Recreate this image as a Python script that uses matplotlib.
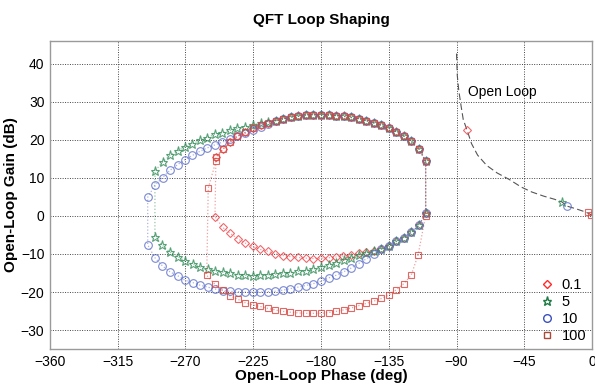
import numpy as np
import matplotlib
matplotlib.use("Agg")
import matplotlib.pyplot as plt
from matplotlib.lines import Line2D

plt.rcParams['font.family'] = ['Liberation Sans', 'DejaVu Sans']

# ---- data (phase deg, gain dB) ----
# common top arc shared by all templates (right to left)
top_phase = [-110.5, -115, -120, -125, -130, -135, -140, -145, -150, -155, -160,
             -165, -170, -175, -180, -185, -190, -195, -200, -205, -210]
top_gain = [14.4, 17.7, 19.6, 21.0, 22.2, 23.1, 23.8, 24.5, 25.1, 25.6, 25.9,
            26.2, 26.4, 26.5, 26.6, 26.6, 26.5, 26.2, 26.0, 25.5, 25.1]

# common lower-right part for 0.1, 5, 10 (left to right)
right_phase = [-140, -135, -130, -125, -120, -115, -110.5]
right_gain = [-8.7, -7.8, -6.7, -5.7, -4.3, -2.5, 0.8]

# template w = 0.1
w01_left_phase = [-215, -220, -225, -230.3, -235.6, -240.5, -245.3, -249.8]
w01_left_gain = [24.4, 23.9, 23.0, 22.0, 20.9, 19.4, 17.5, 15.5]
w01_bot_phase = [-250.4, -245.3, -240.5, -235.3, -230.5, -225.4, -220.3, -215.2, -210.4,
                 -205.3, -200.3, -195.2, -190.2, -185.1, -180.1, -175, -170.3, -165.5,
                 -160, -155, -150, -145]
w01_bot_gain = [-0.2, -3.0, -4.5, -6.0, -7.1, -8.0, -8.8, -9.3, -9.9,
                -10.4, -10.7, -10.9, -11.1, -11.2, -11.1, -11.0, -10.8, -10.5,
                -10.2, -9.8, -9.5, -9.1]

# template w = 5
w5_left_phase = [-215, -220, -225, -230.5, -235.6, -240.5, -245.6, -250.6, -255.5, -260.4,
                 -265.5, -270.4, -275.2, -280.3, -285.2, -290.3]
w5_left_gain = [24.8, 24.4, 24.0, 23.5, 23.0, 22.5, 21.8, 21.5, 20.6, 19.9,
                19.0, 18.2, 17.1, 15.9, 14.2, 11.8]
w5_bot_phase = [-290.3, -285.4, -280.3, -275.2, -270.4, -265.2, -260.4, -255.3, -250.5,
                -245.3, -240.5, -235.3, -230.5, -225.4, -220.3, -215.2, -210.4, -205.3,
                -200.3, -195.2, -190.2, -185.1, -180.1, -175, -170, -165, -160, -155,
                -150, -145]
w5_bot_gain = [-5.4, -7.7, -9.5, -10.7, -11.8, -12.7, -13.4, -13.9, -14.4,
               -14.8, -15.1, -15.4, -15.6, -15.7, -15.6, -15.5, -15.3, -15.1,
               -14.9, -14.6, -14.4, -14.0, -13.5, -12.8, -12.3, -11.5, -11.0, -10.3,
               -9.7, -9.1]

# template w = 10
w10_left_phase = [-215, -220, -225, -230.3, -235.6, -240.5, -245.6, -250.4, -255.5, -260.4,
                  -265.5, -270.4, -275.2, -280.3, -285.2, -290.3, -295.1]
w10_left_gain = [24.1, 23.3, 22.5, 21.7, 21.0, 20.3, 19.4, 18.7, 17.9, 17.0,
                 15.9, 14.8, 13.5, 12.0, 10.1, 8.1, 4.9]
w10_bot_phase = [-295.1, -290.3, -285.4, -280.3, -275.2, -270.4, -265.2, -260.4, -255.3,
                 -250.5, -245.3, -240.5, -235.3, -230.5, -225.3, -220.3, -215.2, -210.4,
                 -205.3, -200.3, -195.2, -190.2, -185.1, -180.1, -175, -170, -165, -160,
                 -155, -150, -145]
w10_bot_gain = [-7.6, -11.0, -13.1, -14.7, -15.7, -16.9, -17.5, -18.2, -18.7,
                -19.2, -19.6, -19.8, -19.9, -20.0, -20.0, -20.0, -19.9, -19.8,
                -19.5, -19.1, -18.7, -18.3, -17.8, -17.2, -16.3, -15.6, -14.7, -13.7,
                -12.5, -11.3, -10.1]

# template w = 100
w100_left_phase = [-215, -220, -225, -230.3, -235.6, -240.5, -245.3, -249.8, -249.8, -254.9]
w100_left_gain = [24.4, 23.9, 23.0, 22.0, 20.9, 19.4, 17.5, 15.5, 14.4, 7.3]
w100_bot_phase = [-255.9, -250.4, -245.3, -240.5, -235.3, -230.5, -225.4, -220.3, -215.2,
                  -210.4, -205.3, -200.3, -195.2, -190.2, -185.1, -180.1, -175, -170,
                  -165, -160, -155, -150, -145, -140, -135, -130, -125, -120, -115.5,
                  -110.5]
w100_bot_gain = [-15.6, -18.0, -19.5, -21.0, -21.9, -22.8, -23.4, -23.8, -24.3,
                 -24.7, -25.1, -25.3, -25.5, -25.6, -25.6, -25.6, -25.4, -25.1,
                 -24.7, -24.2, -23.6, -23.0, -22.4, -21.7, -20.8, -19.4, -17.8, -15.5, -10.2,
                 0.1]

# nominal open loop
ol_phase = [-90.0, -89.5, -88.5, -87, -85.5, -83.1, -80, -76, -70, -63, -55, -47, -40,
            -32, -25, -20, -16.7, -10, -4, 0]
ol_gain = [42.7, 37, 33, 29, 25.3, 22.7, 19, 16, 13.3, 11.3, 9.6, 7.6, 6.3,
           5.2, 4.4, 3.7, 2.6, 1.8, 1.0, 0.2]

# nominal points at each frequency
nom_phase = {'0.1': [-83.1], '5': [-20.0], '10': [-16.7], '100': [-2.8, -0.4]}
nom_gain = {'0.1': [22.7], '5': [3.7], '10': [2.6], '100': [1.0, 0.2]}

labels = ['0.1', '5', '10', '100']
markers = ['D', '*', 'o', 's']
colors = ['#e8454a', '#2e8a55', '#5a6cc8', '#d9443e']
legend_colors = ['#ff2a2a', '#1f7a44', '#3a4fc0', '#a84a3a']
msizes = [4.0, 6.5, 5.5, 5.0]


def contour(left_p, left_g, bot_p, bot_g, with_right=True):
    p = list(top_phase) + list(left_p) + list(bot_p)
    g = list(top_gain) + list(left_g) + list(bot_g)
    if with_right:
        p += right_phase
        g += right_gain
    return p, g


templates = [
    contour(w01_left_phase, w01_left_gain, w01_bot_phase, w01_bot_gain),
    contour(w5_left_phase, w5_left_gain, w5_bot_phase, w5_bot_gain),
    contour(w10_left_phase, w10_left_gain, w10_bot_phase, w10_bot_gain),
    contour(w100_left_phase, w100_left_gain, w100_bot_phase, w100_bot_gain, with_right=False),
]

fig = plt.figure(figsize=(5.95, 3.87), dpi=100)
ax = fig.add_axes([0.084, 0.098, 0.911, 0.796])

for (p, g), lab, m, c, ms in zip(templates, labels, markers, colors, msizes):
    p = p + [p[0]]
    g = g + [g[0]]
    ax.plot(p, g, linestyle=':', color=c, lw=0.9, alpha=0.5)
    ax.plot(p[:-1], g[:-1], linestyle='none', marker=m, ms=ms, mfc='none',
            mec=c, mew=0.8, alpha=0.8)

ax.plot(ol_phase, ol_gain, linestyle=(0, (6, 3)), color='#555555', lw=0.8)
for lab, m, c, ms in zip(labels, markers, colors, msizes):
    ax.plot(nom_phase[lab], nom_gain[lab], linestyle='none', marker=m, ms=ms,
            mfc='none', mec=c, mew=0.8, alpha=0.8)

ax.text(-82.5, 32.7, 'Open Loop', fontsize=10, va='center', ha='left')

ax.set_xlim(-360, 0)
ax.set_ylim(-35, 46)
ax.set_xticks(np.arange(-360, 1, 45))
ax.set_yticks(np.arange(-30, 41, 10))
ax.tick_params(length=0, labelsize=10, pad=4)
ax.grid(True, linestyle=(0, (1, 1.5)), color='#444444', lw=0.7)
for s in ax.spines.values():
    s.set_color('#9a9a9a')
    s.set_linewidth(1.0)

ax.set_title('QFT Loop Shaping', fontsize=11, fontweight='bold', pad=12)
ax.set_xlabel('Open-Loop Phase (deg)', fontsize=11, fontweight='bold', labelpad=0)
ax.set_ylabel('Open-Loop Gain (dB)', fontsize=11, fontweight='bold', labelpad=2)

handles = [Line2D([], [], linestyle='none', marker=m, ms=ms, mfc='none', mec=c, mew=1.0)
           for m, c, ms in zip(markers, legend_colors, msizes)]
ax.legend(handles, labels, loc='lower right', frameon=False, fontsize=10.5,
          handlelength=1.0, handletextpad=0.5, labelspacing=0.2, borderaxespad=0.3,
          borderpad=0.1)

fig.savefig('out.png', dpi=100)
